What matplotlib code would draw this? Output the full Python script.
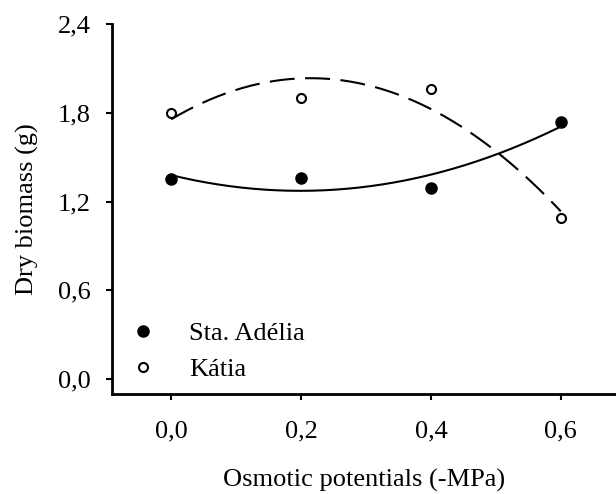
import numpy as np
import matplotlib
matplotlib.use('Agg')
import matplotlib.pyplot as plt

# Potenciais osmóticos (-MPa) e biomassa seca (g)
potenciais = [0.0, 0.2, 0.4, 0.6]
sta_adelia = [1.35, 1.36, 1.295, 1.736]
katia = [1.80, 1.90, 1.958, 1.09]

xticks = [0.0, 0.2, 0.4, 0.6]
xtick_labels = ['0,0', '0,2', '0,4', '0,6']
yticks = [0.0, 0.6, 1.2, 1.8, 2.4]
ytick_labels = ['0,0', '0,6', '1,2', '1,8', '2,4']

plt.rcParams['font.family'] = ['Liberation Serif', 'DejaVu Serif']

fig = plt.figure(figsize=(6.16, 4.94), dpi=100)
ax = fig.add_axes([112 / 616, 100 / 494, 504 / 616, 370 / 494])

# Ajuste quadratico de cada cultivar
xs = np.linspace(0, 0.6, 200)
c1 = np.polyfit(potenciais, sta_adelia, 2)
c2 = np.polyfit(potenciais, katia, 2)
ax.plot(xs, np.polyval(c1, xs), color='black', lw=1.5, zorder=2)
ax.plot(xs, np.polyval(c2, xs), color='black', lw=1.5, linestyle=(0, (12, 5)), zorder=2)

ax.plot(potenciais, sta_adelia, 'o', color='black', ms=8, label='Sta. Adélia', zorder=3)
ax.plot(potenciais, katia, 'o', mfc='white', mec='black', mew=1.5, ms=6.5, label='Kátia', zorder=3)

ax.set_xlim(-0.091, 0.685)
ax.set_ylim(-0.10, 2.4)
ax.set_xticks(xticks)
ax.set_xticklabels(xtick_labels)
ax.set_yticks(yticks)
ax.set_yticklabels(ytick_labels)
ax.tick_params(axis='both', labelsize=19, width=1.5, length=4, direction='out')
ax.tick_params(axis='y', pad=11)
ax.tick_params(axis='x', pad=15)

for s in ['top', 'right']:
    ax.spines[s].set_visible(False)
for s in ['left', 'bottom']:
    ax.spines[s].set_linewidth(2)

ax.set_xlabel('Osmotic potentials (-MPa)', fontsize=19, labelpad=19)
ax.set_ylabel('Dry biomass (g)', fontsize=19, labelpad=14)

ax.legend(loc='lower left', frameon=False, fontsize=19, handletextpad=1.0,
          bbox_to_anchor=(0.022, 0.035), borderaxespad=0, borderpad=0,
          labelspacing=0.47, handlelength=1.5)

plt.savefig('out.png', dpi=100)
